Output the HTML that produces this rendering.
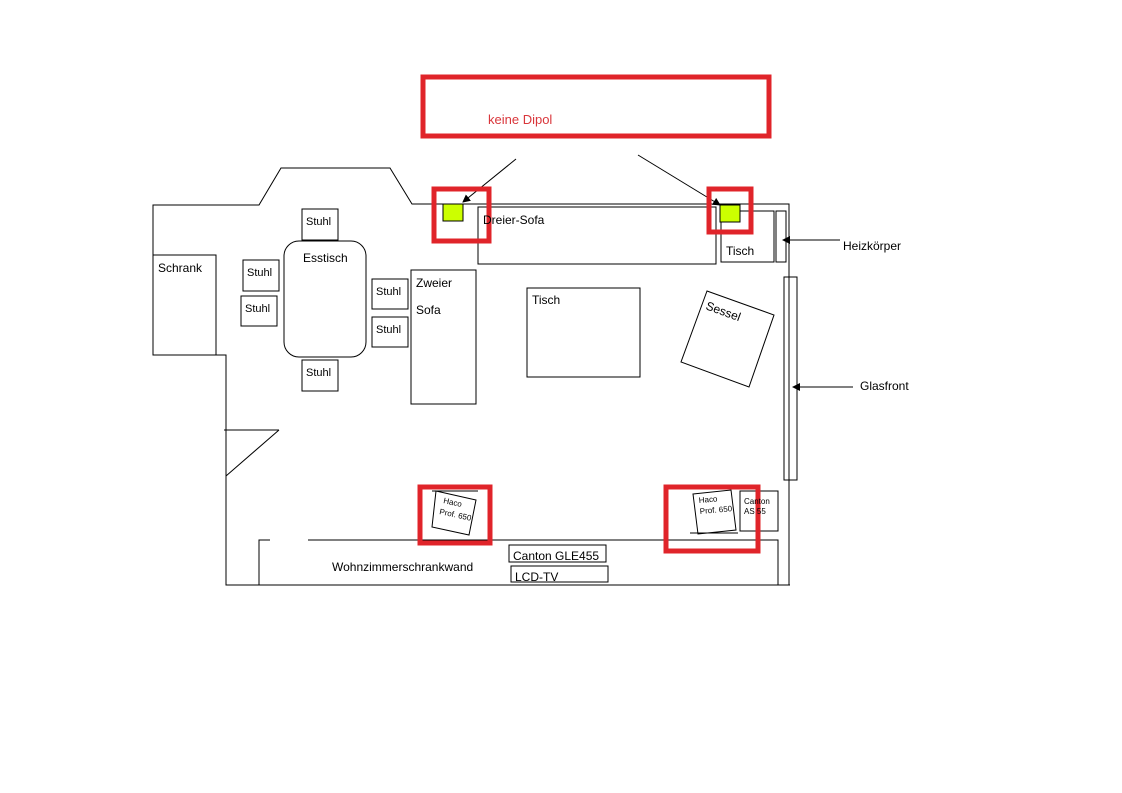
<!DOCTYPE html>
<html><head><meta charset="utf-8"><style>
html,body{margin:0;padding:0;background:#fff;width:1122px;height:793px;overflow:hidden}
svg{display:block}
text{font-family:"Liberation Sans",Arial,sans-serif;fill:#000}
</style></head><body>
<svg width="1122" height="793" viewBox="0 0 1122 793" xmlns="http://www.w3.org/2000/svg">
<defs><marker id="ah" markerWidth="8" markerHeight="8" refX="7" refY="4" orient="auto" markerUnits="userSpaceOnUse"><path d="M0,0 L8,4 L0,8 z" fill="#000"/></marker></defs>
<g fill="none" stroke="#000" stroke-width="1">
<polyline points="153,355 153,205 259,205 281,168 390,168 412,204 789,204 789,585"/>
<polyline points="216,355 226,355 226,585 790,585"/>
<line x1="224" y1="430" x2="279" y2="430"/>
<line x1="279" y1="430" x2="226" y2="476"/>
<rect x="153" y="255" width="63" height="100"/>
<rect x="284" y="241" width="82" height="116" rx="15"/>
<rect x="302" y="209" width="36" height="31"/>
<rect x="243" y="260" width="36" height="31"/>
<rect x="241" y="296" width="36" height="30"/>
<rect x="302" y="360" width="36" height="31"/>
<rect x="372" y="279" width="36" height="30"/>
<rect x="372" y="317" width="36" height="30"/>
<rect x="411" y="270" width="65" height="134"/>
<rect x="478" y="207" width="238" height="57"/>
<rect x="721" y="211" width="53" height="51"/>
<rect x="776" y="211" width="10" height="51"/>
<rect x="784" y="277" width="13" height="203"/>
<rect x="527" y="288" width="113" height="89"/>
<polygon points="707,291 774,315 749,387 681,362"/>
<polyline points="259,585 259,540 778,540 778,585"/>
<rect x="509" y="545" width="97" height="17"/>
<rect x="511" y="566" width="97" height="16"/>
<rect x="740" y="491" width="38" height="40"/>
<polygon points="436,491 476,500 469,535 432,527"/>
<line x1="432" y1="491" x2="478" y2="491"/>
<polygon points="693,494 731,490 736,530 698,534"/>
<line x1="690" y1="533" x2="738" y2="533"/>
<line x1="516" y1="159" x2="463" y2="202" marker-end="url(#ah)"/>
<line x1="638" y1="155" x2="720" y2="205" marker-end="url(#ah)"/>
<line x1="840" y1="240" x2="783" y2="240" marker-end="url(#ah)"/>
<line x1="853" y1="387" x2="793" y2="387" marker-end="url(#ah)"/>
</g>
<rect x="270" y="538" width="38" height="46" fill="#fff"/>
<g fill="#ccff00" stroke="#000"><rect x="443" y="204" width="20" height="17"/><rect x="720" y="205" width="20" height="17"/></g>
<g fill="none" stroke="#e0242a" stroke-width="5">
<rect x="423" y="77" width="346" height="59"/>
<rect x="434" y="189" width="55" height="52"/>
<rect x="709" y="189" width="42" height="43"/>
<rect x="420" y="487" width="70" height="56"/>
<rect x="666" y="487" width="92" height="64"/>
</g>
<text x="488" y="124" font-size="13" style="fill:#d9363b">keine Dipol</text>
<g font-size="11">
<text x="306" y="225">Stuhl</text>
<text x="247" y="276">Stuhl</text>
<text x="245" y="312">Stuhl</text>
<text x="306" y="376">Stuhl</text>
<text x="376" y="295">Stuhl</text>
<text x="376" y="333">Stuhl</text>
</g>
<g font-size="12">
<text x="158" y="272">Schrank</text>
<text x="303" y="262">Esstisch</text>
<text x="416" y="287">Zweier</text>
<text x="416" y="314">Sofa</text>
<text x="483" y="224">Dreier-Sofa</text>
<text x="726" y="255">Tisch</text>
<text x="532" y="304">Tisch</text>
<text x="705" y="309" transform="rotate(20 705 309)">Sessel</text>
<text x="843" y="250">Heizkörper</text>
<text x="860" y="390">Glasfront</text>
<text x="332" y="571">Wohnzimmerschrankwand</text>
<text x="513" y="560">Canton GLE455</text>
<text x="515" y="581">LCD-TV</text>
</g>
<g font-size="8">
<text x="443" y="503" transform="rotate(12 443 503)">Haco</text>
<text x="439" y="514" transform="rotate(12 439 514)">Prof. 650</text>
<text x="699" y="503" transform="rotate(-5 699 503)">Haco</text>
<text x="700" y="514" transform="rotate(-5 700 514)">Prof. 650</text>
<text x="744" y="504">Canton</text>
<text x="744" y="514">AS 55</text>
</g>
</svg>
</body></html>
